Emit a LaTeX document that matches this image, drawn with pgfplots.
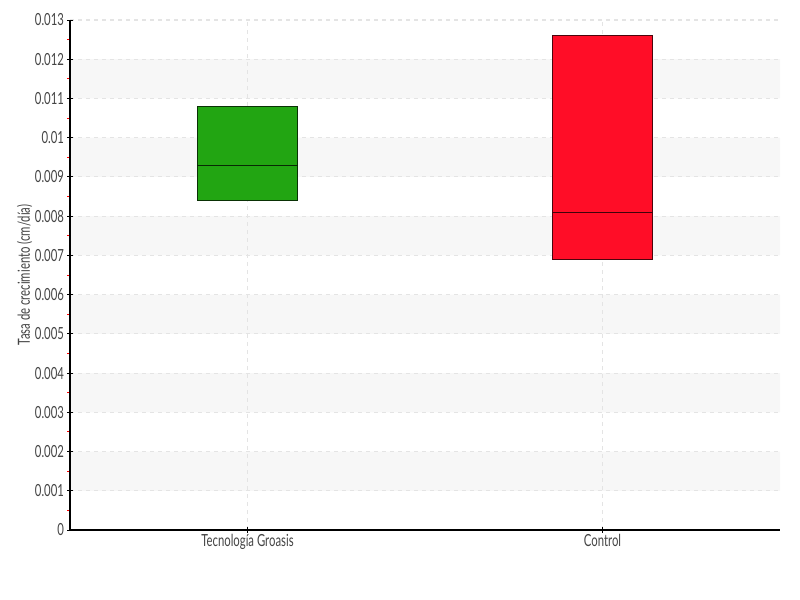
\documentclass[border=0pt]{standalone}
\usepackage{pgfplots}
\pgfplotsset{compat=1.18}
\usepackage{fontspec}
\setmainfont{Lato}[FakeStretch=0.68]
\definecolor{txt}{HTML}{444444}
\definecolor{gridc}{HTML}{E4E4E4}
\definecolor{band}{HTML}{F7F7F7}
\definecolor{boxgreen}{HTML}{22A512}
\definecolor{boxred}{HTML}{FF0D27}
\begin{document}
\begin{tikzpicture}
\begin{axis}[
  at={(0pt,0pt)}, anchor=south west,
  scale only axis, width=532.5pt, height=382.5pt,
  set layers,
  xmin=0.5, xmax=2.5, ymin=0, ymax=0.013,
  axis x line*=bottom, axis y line*=left,
  axis line style={black, line width=0.75pt},
  xtick={1,2}, xticklabels={Tecnología Groasis, Control},
  ytick={0,0.001,0.002,0.003,0.004,0.005,0.006,0.007,0.008,0.009,0.01,0.011,0.012,0.013},
  scaled y ticks=false,
  yticklabel style={/pgf/number format/fixed, /pgf/number format/precision=3, /pgf/number format/assume math mode=true, xshift=1pt},
  xticklabel style={yshift=2pt},
  minor y tick num=1,
  tick align=center,
  major tick length=4pt,
  minor tick length=2pt,
  major tick style={black, line width=0.7pt},
  minor tick style={red, line width=0.7pt, xshift=-1pt},
  grid=major,
  major grid style={gridc, dashed, line width=0.8pt},
  ticklabel style={txt, font=\fontsize{12.5}{14}\selectfont},
  ylabel={Tasa de crecimiento (cm/día)},
  ylabel style={txt, font=\fontsize{12.5}{14}\selectfont, at={(axis description cs:-0.064,0.5)}, anchor=center},
  clip=false,
]
\addplot[on layer=axis background, fill=band, draw=none] coordinates {(0.5,0.001) (2.5,0.001) (2.5,0.002) (0.5,0.002) (0.5,0.001)};
\addplot[on layer=axis background, fill=band, draw=none] coordinates {(0.5,0.003) (2.5,0.003) (2.5,0.004) (0.5,0.004) (0.5,0.003)};
\addplot[on layer=axis background, fill=band, draw=none] coordinates {(0.5,0.005) (2.5,0.005) (2.5,0.006) (0.5,0.006) (0.5,0.005)};
\addplot[on layer=axis background, fill=band, draw=none] coordinates {(0.5,0.007) (2.5,0.007) (2.5,0.008) (0.5,0.008) (0.5,0.007)};
\addplot[on layer=axis background, fill=band, draw=none] coordinates {(0.5,0.009) (2.5,0.009) (2.5,0.010) (0.5,0.010) (0.5,0.009)};
\addplot[on layer=axis background, fill=band, draw=none] coordinates {(0.5,0.011) (2.5,0.011) (2.5,0.012) (0.5,0.012) (0.5,0.011)};
% Tecnologia Groasis: Q1=0.0084, median=0.0093, Q3=0.0108
\addplot[fill=boxgreen, draw=black!70!boxgreen, line width=1pt, mark=none] coordinates {(0.859,0.0084) (1.141,0.0084) (1.141,0.0108) (0.859,0.0108) (0.859,0.0084)};
\addplot[draw=black!75!boxgreen, line width=0.9pt, mark=none] coordinates {(0.859,0.0093) (1.141,0.0093)};
% Control: Q1=0.0069, median=0.0081, Q3=0.0126
\addplot[fill=boxred, draw=black!70!boxred, line width=1pt, mark=none] coordinates {(1.859,0.0069) (2.141,0.0069) (2.141,0.0126) (1.859,0.0126) (1.859,0.0069)};
\addplot[draw=black!75!boxred, line width=0.9pt, mark=none] coordinates {(1.859,0.0081) (2.141,0.0081)};
\end{axis}
\pgfresetboundingbox
\path[use as bounding box] (-52.5pt,-52.5pt) rectangle (547.5pt,397.5pt);
\end{tikzpicture}
\end{document}
